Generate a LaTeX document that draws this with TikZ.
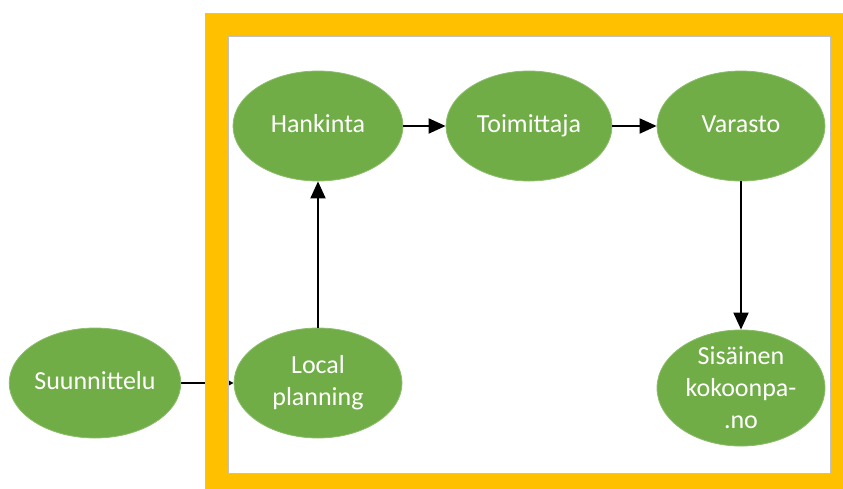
\documentclass[tikz,border=0pt]{standalone}
\usepackage{fontspec}
\setmainfont{Carlito}
\usetikzlibrary{arrows.meta,shapes.geometric}
\definecolor{leaf}{HTML}{70AD47}
\definecolor{gold}{HTML}{FFC000}
\definecolor{edgegray}{HTML}{C0C0C0}
\pgfdeclarelayer{under}
\pgfdeclarelayer{frame}
\pgfsetlayers{under,frame,main}
\tikzset{
  stage/.style={ellipse, fill=leaf, draw=leaf!80!white, line width=0.8pt,
    minimum width=#1, minimum height=110pt, inner sep=0pt,
    text=white, font=\fontsize{26}{32}\selectfont, align=center},
  stage/.default=168pt,
  oneline/.style={text height=18pt, text depth=6pt},
  flow/.style={line width=2pt, -{Triangle[length=17pt,width=15pt]}},
}
\begin{document}
\begin{tikzpicture}[x=1pt,y=-1pt]
\useasboundingbox (0,0) rectangle (843,488);
\node[stage=166pt, oneline] (suu) at (95,383) {Suunnittelu};
\node[stage] (loc) at (318,383) {Local\\planning};
\node[stage=170pt, oneline] (han) at (318,126) {Hankinta};
\node[stage=166pt, oneline] (toi) at (529,126) {Toimittaja};
\node[stage, oneline] (var) at (741,126) {Varasto};
\node[stage, minimum height=116pt] (sis) at (741,388) {Sisäinen\\kokoonpa-\\.no};
\begin{pgfonlayer}{under}
\draw[flow, -{Triangle[length=8pt,width=8pt]}] (suu) -- (loc);
\end{pgfonlayer}
\begin{pgfonlayer}{frame}
\fill[gold, even odd rule] (205,13) rectangle (860,500) (228,36) rectangle (830,473);
\draw[edgegray, line width=1pt] (205,13) rectangle (860,500);
\draw[edgegray, line width=1pt] (228,36) rectangle (830,473);
\end{pgfonlayer}
\draw[flow] (loc) -- (han);
\draw[flow] (han) -- (toi);
\draw[flow] (toi) -- (var);
\draw[flow] (var) -- (sis);
\end{tikzpicture}
\end{document}
